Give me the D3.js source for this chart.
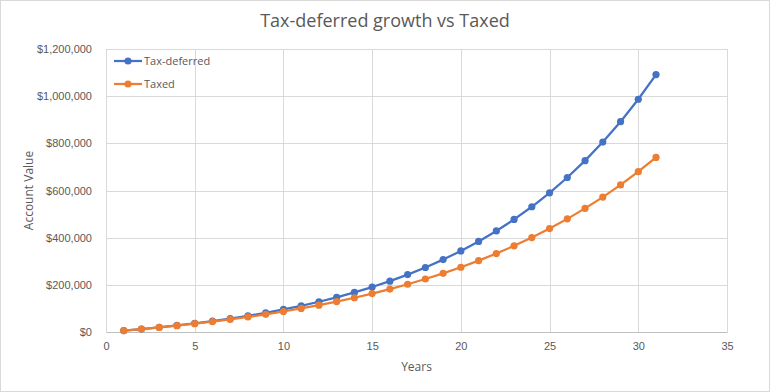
<!DOCTYPE html>
<html>
<head>
<meta charset="utf-8">
<script src="https://d3js.org/d3.v7.min.js"></script>
<style>
	body { margin: 0; background: #fff; }
	svg { display: block; font-family: "Open Sans", "Liberation Sans", sans-serif; }
	.tick text { fill: #595959; font-size: 11px; }
</style>
</head>
<body>
<div id="chart"></div>
<script>
	// chart values
	var years = d3.range(1, 32);
	var taxDeferred = [6000, 12600, 19900, 27800, 36600, 46300, 56900, 68600, 81500, 95600,
		111200, 128300, 147100, 167900, 190600, 215700, 243300, 273600, 307000, 343700,
		384000, 428400, 477300, 531000, 590100, 655100, 726600, 805300, 891800, 987000, 1091700];
	var taxed = [6000, 12500, 19500, 27000, 35200, 44000, 53500, 63800, 74900, 86900,
		99900, 113900, 129000, 145300, 162900, 181900, 202500, 224700, 248700, 274600,
		302500, 332700, 365400, 400600, 438600, 479700, 524100, 572000, 623800, 679700, 740100];
	var seriesNames = ["Tax-deferred", "Taxed"];
	var seriesColors = ["#4472C4", "#ED7D31"];
	var xTicks = [0, 5, 10, 15, 20, 25, 30, 35];
	var yTicks = [0, 200000, 400000, 600000, 800000, 1000000, 1200000];

	var W = 770, H = 392;
	var margin = {top: 49, left: 106, bottom: 60, right: 43};
	var width = W - margin.left - margin.right;
	var height = H - margin.top - margin.bottom;

	var svg = d3.select("#chart").append("svg")
		.attr("width", W)
		.attr("height", H);

	// chart border
	svg.append("rect")
		.attr("x", 0.5).attr("y", 0.5)
		.attr("width", W - 1).attr("height", H - 1)
		.attr("fill", "#fff")
		.attr("stroke", "#d9d9d9");

	var g = svg.append("g")
		.attr("transform", "translate(" + margin.left + "," + margin.top + ")");

	var x = d3.scaleLinear().domain([0, 35]).range([0, width]);
	var y = d3.scaleLinear().domain([0, 1200000]).range([height, 0]);

	// gridlines
	g.append("g").selectAll("line.v")
		.data(xTicks)
		.enter().append("line")
		.attr("x1", function(d){ return Math.round(x(d)) + 0.5; })
		.attr("x2", function(d){ return Math.round(x(d)) + 0.5; })
		.attr("y1", 0).attr("y2", height)
		.attr("stroke", "#d9d9d9");

	g.append("g").selectAll("line.h")
		.data(yTicks.slice(1))
		.enter().append("line")
		.attr("x1", 0).attr("x2", width)
		.attr("y1", function(d){ return Math.round(y(d)) + 0.5; })
		.attr("y2", function(d){ return Math.round(y(d)) + 0.5; })
		.attr("stroke", "#d9d9d9");

	// axes
	var xAxis = g.append("g")
		.attr("transform", "translate(0," + height + ")")
		.call(d3.axisBottom(x).tickValues(xTicks).tickSize(0).tickPadding(10));
	xAxis.select(".domain").attr("stroke", "#bfbfbf");

	var yAxis = g.append("g")
		.call(d3.axisLeft(y).tickValues(yTicks).tickSize(0).tickPadding(14)
			.tickFormat(function(d){ return "$" + d3.format(",")(d); }));
	yAxis.select(".domain").remove();

	// axis titles
	svg.append("text")
		.attr("x", margin.left + x(17.5))
		.attr("y", 371)
		.attr("text-anchor", "middle")
		.attr("fill", "#595959")
		.style("font-size", "12px")
		.text("Years");

	svg.append("text")
		.attr("transform", "translate(33," + (margin.top + height / 2) + ") rotate(-90)")
		.attr("text-anchor", "middle")
		.attr("fill", "#595959")
		.style("font-size", "12px")
		.text("Account Value");

	// title
	svg.append("text")
		.attr("x", W / 2)
		.attr("y", 27)
		.attr("text-anchor", "middle")
		.attr("fill", "#595959")
		.style("font-size", "18px")
		.text("Tax-deferred growth vs Taxed");

	// lines + markers
	var line = d3.line()
		.x(function(d, i){ return x(years[i]); })
		.y(function(d){ return y(d); });

	[taxDeferred, taxed].forEach(function(vals, k) {
		g.append("path")
			.datum(vals)
			.attr("d", line)
			.attr("fill", "none")
			.attr("stroke", seriesColors[k])
			.attr("stroke-width", 2.25)
			.attr("stroke-linejoin", "round");

		g.append("g").selectAll("circle")
			.data(vals)
			.enter().append("circle")
			.attr("cx", function(d, i){ return x(years[i]); })
			.attr("cy", function(d){ return y(d); })
			.attr("r", 3.6)
			.attr("fill", seriesColors[k]);
	});

	// legend
	var legend = svg.append("g");
	seriesNames.forEach(function(name, k) {
		var ly = 61 + k * 23;
		legend.append("line")
			.attr("x1", 114).attr("x2", 142)
			.attr("y1", ly).attr("y2", ly)
			.attr("stroke", seriesColors[k])
			.attr("stroke-width", 2.25);
		legend.append("circle")
			.attr("cx", 128).attr("cy", ly).attr("r", 3.6)
			.attr("fill", seriesColors[k]);
		legend.append("text")
			.attr("x", 144).attr("y", ly + 4)
			.attr("fill", "#595959")
			.style("font-size", "11px")
			.text(name);
	});
</script>
</body>
</html>
